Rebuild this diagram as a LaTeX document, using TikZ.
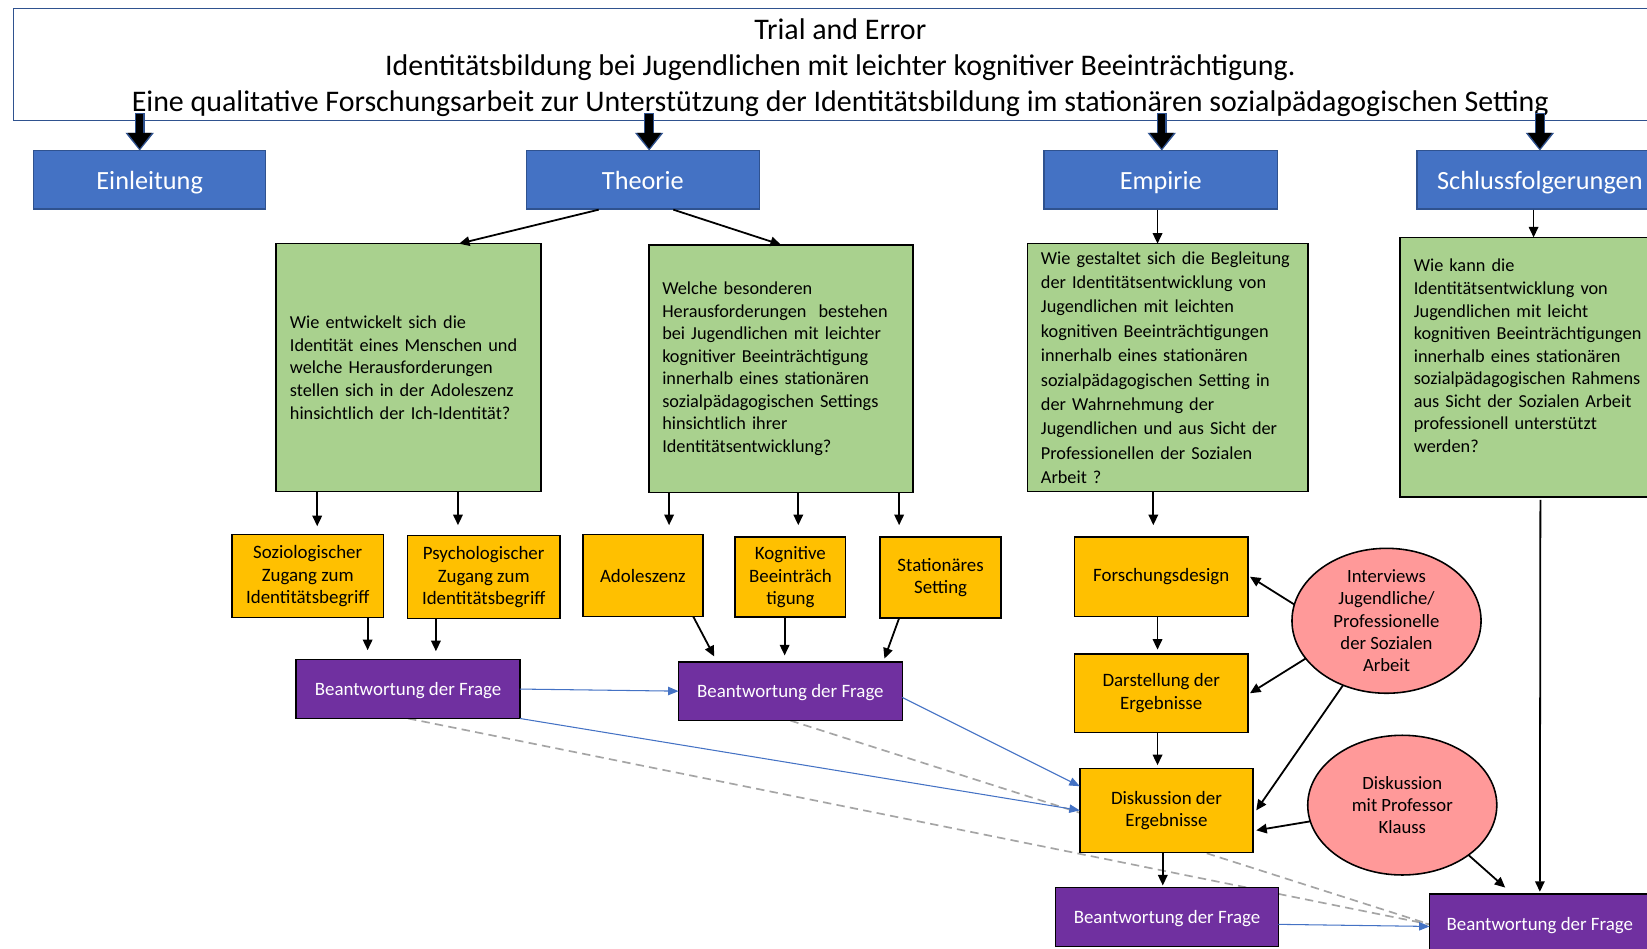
\documentclass[tikz,border=0pt]{standalone}
\usepackage{fontspec}
\setmainfont{Carlito}
\usetikzlibrary{arrows.meta,shapes.geometric,backgrounds}
\definecolor{hdrblue}{HTML}{4472C4}
\definecolor{hdrborder}{HTML}{2F528F}
\definecolor{qgreen}{HTML}{A9D18E}
\definecolor{topicyellow}{HTML}{FFC000}
\definecolor{answerpurple}{HTML}{7030A0}
\definecolor{sourcepink}{HTML}{FF9999}
\definecolor{dashgrey}{HTML}{A5A5A5}
\tikzset{
  boxbase/.style={draw=black, line width=1.5pt, inner sep=0pt, outer sep=0pt,
    font=\fontsize{18}{21.5}\selectfont},
  titlebox/.style={draw=hdrborder, line width=1.3pt, fill=white, inner sep=0pt},
  titletextstyle/.style={inner sep=0pt, align=center, font=\fontsize{28.5}{34.5}\selectfont},
  header/.style={draw=hdrborder, line width=1.2pt, fill=hdrblue, text=white,
    font=\fontsize{25}{30}\selectfont, minimum height=56pt, inner sep=0pt,
    text height=20pt, text depth=2pt},
  question/.style={boxbase, fill=qgreen, align=left, minimum height=236pt,
    font=\fontsize{17.4}{21.5}\selectfont},
  topic/.style={boxbase, fill=topicyellow, align=center},
  answer/.style={boxbase, fill=answerpurple, text=white, minimum height=56pt,
    text height=15pt, text depth=2pt},
  source/.style={ellipse, boxbase, fill=sourcepink, align=center,
    font=\fontsize{17.8}{21.3}\selectfont},
  flow/.style={-{Triangle[length=10pt,width=9pt]}, line width=1.7pt},
  bigflowedge/.style={-{Triangle[length=17pt,width=26pt]}, line width=9.5pt, hdrborder},
  bigflow/.style={-{Triangle[length=15pt,width=22pt]}, line width=7pt, black},
  link/.style={-{Triangle[length=10pt,width=8pt]}, hdrblue, line width=1pt},
  trace/.style={dashgrey, line width=1.6pt, dash pattern=on 8pt off 5pt},
}
\begin{document}
\begin{tikzpicture}[x=1pt,y=-1pt]
\useasboundingbox (0,0) rectangle (1568,903);

% title banner
\node[titlebox, minimum width=1574pt, minimum height=107pt] (title) at (800,61.5) {};
\node[titletextstyle] (titletext) at (800,64.5)
  {Trial and Error\\
   Identitätsbildung bei Jugendlichen mit leichter kognitiver Beeinträchtigung.\\
   Eine qualitative Forschungsarbeit zur Unterstützung der Identitätsbildung im stationären sozialpädagogischen Setting};

% chapter headers
\node[header, minimum width=221pt] (ein) at (142.5,171) {Einleitung};
\node[header, minimum width=222pt] (th)  at (612,171)   {Theorie};
\node[header, minimum width=222pt] (em)  at (1105,171)  {Empirie};
\node[header, minimum width=234pt] (sf)  at (1466,171)  {Schlussfolgerungen};

% research questions
\node[question, minimum width=252pt, text width=226pt] (g1) at (389,350)
  {Wie entwickelt sich die\\
   Identität eines Menschen und\\
   welche Herausforderungen\\
   stellen sich in der Adoleszenz\\
   hinsichtlich der Ich-Identität?};
\node[question, minimum width=251pt, text width=226pt] (g2) at (743.5,351)
  {Welche besonderen\\
   Herausforderungen\ \ bestehen\\
   bei Jugendlichen mit leichter\\
   kognitiver Beeinträchtigung\\
   innerhalb eines stationären\\
   sozialpädagogischen Settings\\
   hinsichtlich ihrer\\
   Identitätsentwicklung?};
\node[question, minimum width=267pt, text width=241pt,
      font=\fontsize{17.4}{23.2}\selectfont] (g3) at (1111.5,350)
  {Wie gestaltet sich die Begleitung\\
   der Identitätsentwicklung von\\
   Jugendlichen mit leichten\\
   kognitiven Beeinträchtigungen\\
   innerhalb eines stationären\\
   sozialpädagogischen Setting in\\
   der Wahrnehmung der\\
   Jugendlichen und aus Sicht der\\
   Professionellen der Sozialen\\
   Arbeit ?};
\node[question, minimum width=267pt, minimum height=247pt, text width=241pt] (g4) at (1466.5,349.5)
  {Wie kann die\\
   Identitätsentwicklung von\\
   Jugendlichen mit leicht\\
   kognitiven Beeinträchtigungen\\
   innerhalb eines stationären\\
   sozialpädagogischen Rahmens\\
   aus Sicht der Sozialen Arbeit\\
   professionell unterstützt\\
   werden?\\
   \mbox{}};

% topics
\node[topic, minimum width=144pt, minimum height=79pt] (y1) at (293,548.5)
  {Soziologischer\\Zugang zum\\Identitätsbegriff};
\node[topic, minimum width=145pt, minimum height=79pt] (y2) at (460.5,549.5)
  {Psychologischer\\Zugang zum\\Identitätsbegriff};
\node[topic, minimum width=114pt, minimum height=78pt] (y3) at (612,548) {Adoleszenz};
\node[topic, minimum width=105pt, minimum height=76pt] (y4) at (752.5,549.5)
  {Kognitive\\Beeinträch\\tigung};
\node[topic, minimum width=115pt, minimum height=77pt] (y5) at (895.5,550)
  {Stationäres\\Setting};
\node[topic, minimum width=165pt, minimum height=76pt] (y6) at (1105.5,549) {Forschungsdesign};
\node[topic, minimum width=165pt, minimum height=75pt] (y7) at (1105.5,660)
  {Darstellung der\\Ergebnisse};
\node[topic, minimum width=165pt, minimum height=80pt] (y8) at (1110.5,771.5)
  {Diskussion der\\Ergebnisse};

% answers
\node[answer, minimum width=213pt] (p1) at (388.5,656) {Beantwortung der Frage};
\node[answer, minimum width=213pt] (p2) at (752.5,658) {Beantwortung der Frage};
\node[answer, minimum width=212pt] (p3) at (1111,873)  {Beantwortung der Frage};
\node[answer, minimum width=210pt] (p4) at (1466,879)  {Beantwortung der Frage};

% sources
\node[source, minimum width=180pt, minimum height=135pt] (e1) at (1320,591)
  {Interviews\\Jugendliche/\\Professionelle\\der Sozialen\\Arbeit};
\node[source, minimum width=180pt, minimum height=133pt] (e2) at (1335,766.5)
  {Diskussion\\mit Professor\\Klauss};

% dashed traces run behind the boxes
\begin{scope}[on background layer]
  \draw[trace] (p1.south) -- ([yshift=-1pt]p4.west);
  \draw[trace] (p2.south) -- ([yshift=-1pt]p4.west);
\end{scope}

% banner to chapters
\foreach \n/\dx in {ein/-9.5, th/6, em/1, sf/0}{
  \draw[bigflowedge] ([xshift=\dx pt,yshift=8pt]\n.north |- title.south) -- ([xshift=\dx pt,yshift=-1pt]\n.north);
  \draw[bigflow] ([xshift=\dx pt,yshift=7pt]\n.north |- title.south) -- ([xshift=\dx pt,yshift=1pt]\n.north);
}

% chapters to questions
\draw[flow] ([xshift=-42pt]th.south) -- ([xshift=48pt]g1.north);
\draw[flow] ([xshift=29pt]th.south) -- (g2.north);
\draw[flow] ([xshift=-3pt]em.south) -- ([xshift=-9.5pt]g3.north);
\draw[flow] ([xshift=-6pt]sf.south) -- ([xshift=-6.5pt]g4.north);

% questions to topics
\draw[flow] ([xshift=-87pt]g1.south) -- ([xshift=9pt,yshift=8pt]y1.north);
\draw[flow] ([xshift=47pt]g1.south) -- ([xshift=-24.5pt,yshift=10pt]y2.north);
\draw[flow] ([xshift=-106.5pt]g2.south) -- ([xshift=25pt,yshift=9pt]y3.north);
\draw[flow] ([xshift=16.5pt]g2.south) -- ([xshift=7.5pt,yshift=11.5pt]y4.north);
\draw[flow] ([xshift=112.5pt]g2.south) -- ([xshift=-39.5pt,yshift=11.5pt]y5.north);
\draw[flow] ([xshift=-13.5pt]g3.south) -- ([xshift=-7.5pt,yshift=11pt]y6.north);

% topics to answers
\draw[flow] ([xshift=57pt]y1.south) -- ([xshift=-38.5pt,yshift=9pt]p1.north);
\draw[flow] ([xshift=-45.5pt]y2.south) -- ([xshift=26.5pt,yshift=8pt]p1.north);
\draw[flow] ([xshift=48pt]y3.south) -- ([xshift=-72.5pt,yshift=5pt]p2.north);
\draw[flow] ([xshift=-5.5pt]y4.south) -- ([xshift=-5.5pt,yshift=6pt]p2.north);
\draw[flow] ([xshift=-39.5pt]y5.south) -- ([xshift=89.5pt,yshift=3pt]p2.north);

% empirical chain
\draw[flow] ([xshift=-3.5pt]y6.south) -- ([xshift=-3.5pt,yshift=4pt]y7.north);
\draw[flow] ([xshift=-3.5pt]y7.south) -- ([xshift=-8.5pt,yshift=3pt]y8.north);
\draw[flow] ([xshift=-3.5pt]y8.south) -- ([xshift=-4pt,yshift=2pt]p3.north);

% sources feeding the empirical part
\draw[flow] (e1.170) -- ([xshift=2pt]y6.east);
\draw[flow] (e1.205) -- ([xshift=2pt]y7.east);
\draw[flow] (e1.236) -- ([xshift=3pt]y8.east);
\draw[flow] (e2.190) -- ([xshift=3pt,yshift=-19pt]y8.east);
\draw[flow] (e2.-37) -- ([xshift=-33pt,yshift=6pt]p4.north);
\draw[flow] ([yshift=-3pt]g4.south) -- ([yshift=2pt]p4.north);

% answers carried forward
\draw[link] (p1.east) -- (p2.west);
\draw[link] (p1.south east) -- (y8.west);
\draw[link] ([yshift=-6pt]p2.east) -- ([yshift=23pt]y8.west);
\draw[link] ([yshift=-7pt]p3.east) -- ([yshift=-3pt]p4.west);
\end{tikzpicture}
\end{document}
